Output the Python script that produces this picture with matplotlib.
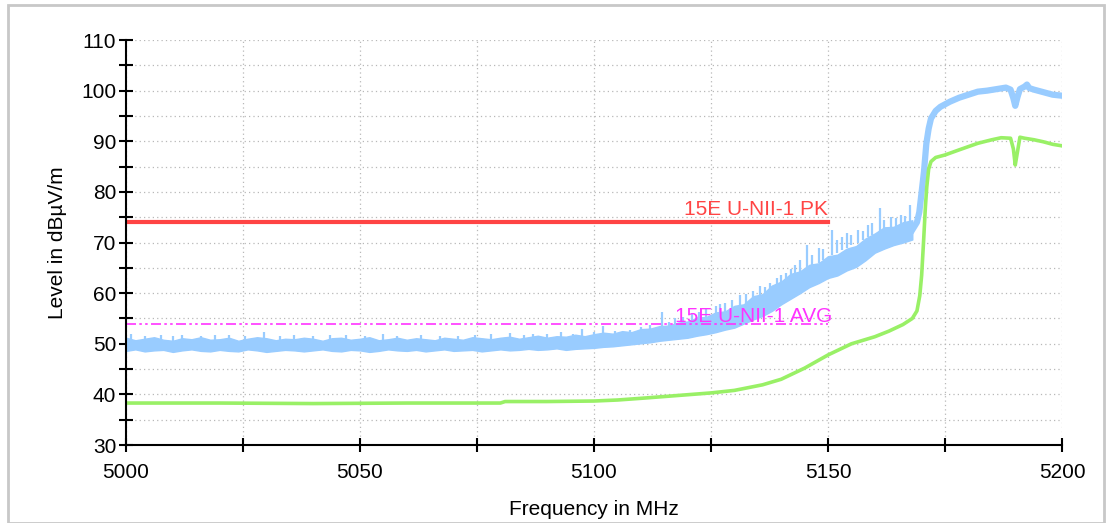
import numpy as np
import matplotlib.pyplot as plt
from matplotlib.patches import Rectangle
from matplotlib.ticker import MultipleLocator

plt.rcParams['font.family'] = ['Liberation Sans', 'DejaVu Sans']

# peak trace (noise band), 2 MHz steps 5000..5168
peak_f = np.arange(5000, 5169, 2)
peak_lo = [48.6, 48.9, 48.5, 48.7, 48.8, 48.4, 48.7, 48.9, 48.6, 48.5,
           48.8, 48.6, 48.5, 48.9, 48.7, 48.4, 48.6, 48.8, 48.7, 48.5,
           48.7, 48.9, 48.6, 48.5, 48.8, 48.7, 48.4, 48.6, 48.9, 48.7,
           48.6, 48.8, 48.5, 48.7, 48.9, 48.6, 48.7, 48.8, 48.5, 48.7,
           48.9, 48.7, 48.8, 49.0, 48.8, 48.9, 49.1, 48.8, 49.0, 49.1,
           49.2, 49.4, 49.5, 49.7, 49.9, 50.1, 50.3, 50.6, 50.8, 51.0,
           51.2, 51.6, 51.9, 52.3, 52.8, 53.2, 54.0, 54.8, 55.5, 56.5,
           57.8, 58.9, 60.0, 61.2, 62.0, 63.0, 63.5, 64.5, 65.2, 66.5,
           68.0, 68.8, 69.5, 70.0, 70.6]
peak_hi = [51.2, 50.7, 51.0, 51.3, 50.8, 50.6, 51.1, 50.9, 51.3, 50.8,
           50.9, 51.2, 50.6, 51.0, 51.3, 51.1, 50.7, 51.0, 50.9, 51.2,
           51.0, 50.6, 51.1, 51.2, 50.8, 51.0, 51.3, 50.7, 50.9, 51.2,
           50.8, 51.1, 50.9, 50.7, 51.2, 51.0, 50.8, 51.3, 51.1, 50.9,
           51.2, 51.4, 51.0, 51.3, 51.6, 51.2, 51.5, 51.4, 51.8, 51.5,
           51.9, 52.2, 52.0, 52.5, 52.3, 52.9, 53.0, 53.5, 53.6, 54.2,
           54.4, 55.2, 55.3, 56.2, 56.4, 57.5, 57.8, 59.4, 59.8, 61.5,
           62.3, 63.8, 64.3, 65.6, 65.9, 67.3, 67.6, 68.8, 69.3, 70.8,
           71.8, 73.0, 73.1, 74.0, 74.4]

# spikes on the peak trace
spike_f = [5001, 5004, 5007.5, 5010, 5012, 5016, 5019, 5022, 5025.5, 5029.5,
           5033, 5036, 5040, 5043.5, 5047, 5051, 5055, 5058, 5063, 5067,
           5071, 5074.5, 5078, 5082, 5085, 5087, 5090, 5093, 5095.5, 5097.5,
           5100, 5102, 5104.5, 5107.7, 5110, 5112, 5114.5, 5116, 5117.3, 5119,
           5121, 5122.5, 5124, 5126, 5127, 5128, 5129.5, 5131.2, 5132.5, 5134,
           5135.5, 5136.5, 5137.6, 5139, 5140, 5141, 5142, 5143, 5144, 5145.5,
           5146.5, 5148, 5149, 5150.9, 5152, 5153, 5154, 5155, 5156.5, 5157.5,
           5158.5, 5159.5, 5161, 5162, 5163.5, 5164.5, 5165.5, 5166.5, 5167.5]
spike_lo = [50.0, 50.0, 50.0, 50.0, 50.0, 50.0, 50.0, 50.0, 50.0, 50.0,
            50.0, 50.0, 50.0, 50.0, 50.0, 50.0, 50.0, 50.0, 50.0, 50.0,
            50.0, 50.0, 50.0, 50.0, 50.0, 50.0, 50.0, 50.2, 50.2, 50.3,
            50.5, 50.6, 50.8, 51.0, 51.3, 51.6, 52.0, 52.3, 52.6, 53.0,
            53.5, 54.0, 54.5, 55.0, 55.5, 56.0, 56.5, 57.0, 57.5, 58.2,
            59.0, 59.5, 60.0, 61.0, 61.5, 62.0, 63.0, 63.5, 64.0, 65.0,
            65.5, 66.0, 66.5, 67.5, 68.0, 68.5, 69.0, 69.5, 70.0, 70.5,
            71.0, 71.5, 72.0, 72.3, 72.6, 72.8, 73.0, 73.2, 73.5]
spike_hi = [51.9, 51.6, 51.7, 51.5, 51.8, 51.6, 51.7, 51.7, 51.5, 52.3,
            51.6, 51.8, 51.6, 51.7, 51.7, 51.5, 51.9, 51.6, 51.8, 51.6,
            51.6, 51.7, 51.9, 52.2, 51.8, 52.0, 51.9, 52.4, 52.0, 53.0,
            52.3, 53.5, 52.6, 52.7, 53.3, 53.8, 56.2, 54.3, 55.0, 55.2,
            56.0, 56.3, 57.0, 57.5, 57.8, 58.0, 58.6, 59.6, 59.8, 60.5,
            61.5, 61.2, 62.0, 63.0, 63.5, 64.0, 64.8, 65.5, 66.5, 69.5,
            67.5, 69.0, 68.8, 72.5, 70.6, 71.0, 71.8, 71.5, 72.5, 72.3,
            73.5, 73.8, 76.8, 74.5, 75.0, 74.8, 75.5, 75.2, 77.4]

# peak trace above the band edge
top_f = [5168, 5169, 5169.5, 5170, 5170.5, 5171, 5171.5, 5172, 5173, 5174,
         5175, 5176, 5178, 5180, 5182, 5184, 5186, 5188, 5189, 5189.6,
         5190, 5190.5, 5191, 5192, 5192.5, 5193, 5194, 5196, 5198, 5200]
top_pk = [72.5, 74.0, 76.0, 80.0, 84.0, 89.5, 92.5, 94.5, 96.0, 96.8,
          97.3, 97.8, 98.6, 99.2, 99.8, 100.0, 100.3, 100.6, 100.2, 98.5,
          97.0, 98.8, 100.3, 100.8, 101.2, 100.5, 100.2, 99.7, 99.2, 99.0]

# average trace
avg_f = [5000, 5020, 5040, 5060, 5080, 5081, 5090, 5100, 5105, 5111,
         5118, 5125, 5130, 5136, 5140, 5145, 5150, 5155, 5160, 5163,
         5166, 5168, 5169, 5169.6, 5170, 5170.4, 5170.8, 5171.1, 5171.5, 5172,
         5173, 5175, 5178, 5182, 5185, 5187, 5189, 5189.6, 5190, 5190.4,
         5191, 5192, 5194, 5196, 5198, 5200]
avg = [38.3, 38.3, 38.2, 38.3, 38.3, 38.6, 38.6, 38.7, 38.9, 39.3,
       39.8, 40.3, 40.8, 41.9, 43.0, 45.2, 47.8, 50.0, 51.4, 52.5,
       53.8, 55.0, 56.5, 59.5, 63.5, 70.0, 77.0, 81.0, 84.5, 86.0,
       86.8, 87.3, 88.3, 89.6, 90.3, 90.7, 90.6, 88.5, 85.3, 87.5,
       90.8, 90.6, 90.3, 89.9, 89.4, 89.1]

# limit lines
lim_f = [5000, 5150]
lim_pk = [74, 74]
lim_avg = [54, 54]

blue = '#99ccff'
green = '#99f066'
red = '#ff4444'
magenta = '#ff33ff'

fig = plt.figure(figsize=(11.1, 5.23), dpi=100)
fig.patches.append(Rectangle((0.007, 0.0), 0.988, 0.99, transform=fig.transFigure,
                             fill=False, edgecolor='#c8c8c8', lw=2))
ax = fig.add_axes([0.1135, 0.149, 0.8433, 0.7745])

ax.fill_between(peak_f, peak_lo, peak_hi, color=blue, lw=1.0, edgecolor=blue)
ax.vlines(spike_f, spike_lo, spike_hi, color=blue, lw=1.6)
ax.plot(top_f, top_pk, color=blue, lw=4.5, solid_joinstyle='round')
ax.plot(avg_f, avg, color=green, lw=2.6)

ax.plot(lim_f, lim_pk, color=red, lw=3)
ax.plot(lim_f, lim_avg, color=magenta, lw=1.2, dashes=[6, 2, 1.5, 2, 1.5, 2])
ax.text(5150, 74.6, '15E U-NII-1 PK', color=red, fontsize=15, ha='right', va='bottom')
ax.text(5151, 53.6, '15E U-NII-1 AVG', color=magenta, fontsize=15, ha='right', va='bottom')

ax.set_xlim(5000, 5200)
ax.set_ylim(30, 110)
ax.xaxis.set_major_locator(MultipleLocator(50))
ax.xaxis.set_minor_locator(MultipleLocator(25))
ax.yaxis.set_major_locator(MultipleLocator(10))
ax.yaxis.set_minor_locator(MultipleLocator(5))
ax.tick_params(which='both', direction='inout', length=10, width=1.5, labelsize=15)
ax.tick_params(axis='x', pad=8)
ax.tick_params(axis='y', pad=2)
ax.grid(which='both', color='#b8b8b8', ls=(0, (1, 2.5)), lw=0.9)
for s in ['top', 'right']:
    ax.spines[s].set_visible(False)
for s in ['left', 'bottom']:
    ax.spines[s].set_linewidth(1.5)
ax.set_axisbelow(True)

ax.set_xlabel('Frequency in MHz', fontsize=15, labelpad=13)
ax.set_ylabel('Level in dBµV/m', fontsize=15, labelpad=10)

plt.savefig('out.png', dpi=100)
